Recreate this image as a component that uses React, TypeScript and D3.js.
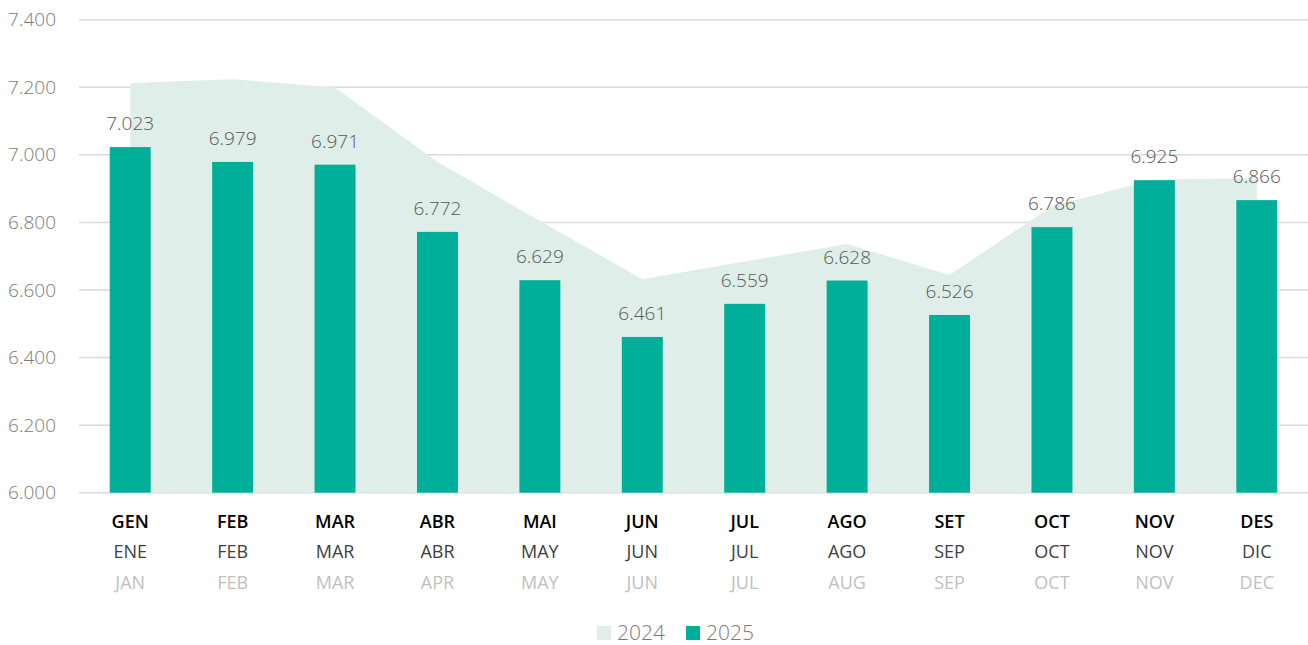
import React from "react";
import * as d3 from "d3";

const months = ["GEN", "FEB", "MAR", "ABR", "MAI", "JUN", "JUL", "AGO", "SET", "OCT", "NOV", "DES"];
const monthsEs = ["ENE", "FEB", "MAR", "ABR", "MAY", "JUN", "JUL", "AGO", "SEP", "OCT", "NOV", "DIC"];
const monthsEn = ["JAN", "FEB", "MAR", "APR", "MAY", "JUN", "JUL", "AUG", "SEP", "OCT", "NOV", "DEC"];
const values2024 = [7213, 7224, 7199, 6979, 6804, 6632, 6684, 6736, 6644, 6848, 6927, 6931];
const values2025 = [7023, 6979, 6971, 6772, 6629, 6461, 6559, 6628, 6526, 6786, 6925, 6866];
const yTicks = [6000, 6200, 6400, 6600, 6800, 7000, 7200, 7400];
const seriesNames = ["2024", "2025"];

const W = 1308;
const H = 645;
const FONT = "'Open Sans', 'Segoe UI', sans-serif";
const fmt = (v: number) => d3.format(",.3f")(v / 1000).replace(",", "");

export default function App() {
  const x = d3.scaleBand<string>().domain(months).range([79, 1308]).padding(0);
  const y = d3.scaleLinear().domain([6000, 7400]).range([492.7, 19.7]);
  const bw = x.bandwidth() * 0.4;
  const cx = (m: string) => (x(m) as number) + x.bandwidth() / 2;

  const area = d3
    .area<number>()
    .x((_, i) => cx(months[i]))
    .y0(y(6000))
    .y1((d) => y(d));

  return (
    <svg width={W} height={H} style={{ position: "absolute", left: 0, top: 0, background: "#fff" }}>
      {yTicks.map((t) => (
        <g key={t}>
          <line x1={79} x2={1308} y1={y(t)} y2={y(t)} stroke="#d9d9d9" strokeWidth={1.5} />
          <text x={56} y={y(t)} dy="0.35em" textAnchor="end" fontFamily={FONT} fontSize={19} fill="#7a7a7a" fontWeight={300}>
            {fmt(t)}
          </text>
        </g>
      ))}
      <path d={area(values2024) as string} fill="#dfeee9" />
      {values2025.map((v, i) => (
        <g key={months[i]}>
          <rect x={cx(months[i]) - bw / 2} y={y(v)} width={bw} height={y(6000) - y(v)} fill="#00af9a" />
          <text x={cx(months[i])} y={y(v) - 17} textAnchor="middle" fontFamily={FONT} fontSize={19} fill="#595959" fontWeight={300}>
            {fmt(v)}
          </text>
        </g>
      ))}
      {months.map((m, i) => (
        <g key={"lab" + m}>
          <text x={cx(m)} y={528} textAnchor="middle" fontFamily={FONT} fontSize={18} fontWeight={600} fill="#000">
            {m}
          </text>
          <text x={cx(m)} y={558} textAnchor="middle" fontFamily={FONT} fontSize={18} fill="#404040">
            {monthsEs[i]}
          </text>
          <text x={cx(m)} y={589} textAnchor="middle" fontFamily={FONT} fontSize={18} fill="#bfbfbf">
            {monthsEn[i]}
          </text>
        </g>
      ))}
      <g>
        <rect x={597} y={626} width={14} height={14} fill="#dfeee9" />
        <text x={617} y={633} dy="0.35em" fontFamily={FONT} fontSize={21} fill="#7a7a7a" fontWeight={300}>
          {seriesNames[0]}
        </text>
        <rect x={686} y={626} width={14} height={14} fill="#00af9a" />
        <text x={706} y={633} dy="0.35em" fontFamily={FONT} fontSize={21} fill="#7a7a7a" fontWeight={300}>
          {seriesNames[1]}
        </text>
      </g>
    </svg>
  );
}
